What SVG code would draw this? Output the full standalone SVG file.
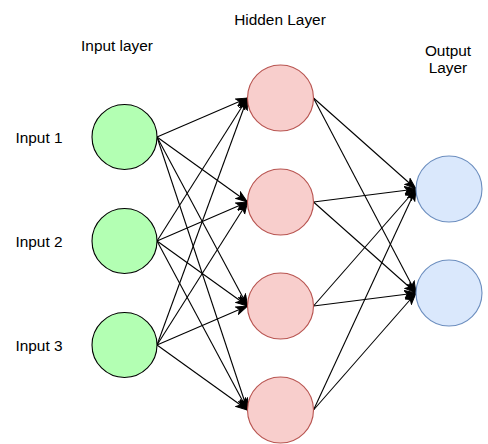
<svg xmlns="http://www.w3.org/2000/svg" width="488" height="444" viewBox="0 0 488 444">
<style>
text{font-family:"Liberation Sans",Arial,sans-serif;font-size:15.4px;fill:#000;text-anchor:middle}
.in{fill:#b3ffb3;stroke:#000;stroke-width:1.1}
.hid{fill:#f8cecc;stroke:#b85450;stroke-width:1.1}
.out{fill:#dae8fc;stroke:#6c8ebf;stroke-width:1.1}
.e{stroke:#000;stroke-width:1.1;fill:none;marker-end:url(#arr)}
</style>
<defs>
<marker id="arr" markerUnits="userSpaceOnUse" markerWidth="14" markerHeight="10" refX="12" refY="4.5" orient="auto">
<path d="M0.5,0.5 L12,4.5 L0.5,8.5 L3.3,4.5 Z" fill="#000" stroke="#000" stroke-width="1"/>
</marker>
</defs>
<g id="connectors">
<path class="e" d="M157,137 L247.5,98"/>
<path class="e" d="M157,137 L247.5,202"/>
<path class="e" d="M157,137 L247.5,306"/>
<path class="e" d="M157,137 L247.5,410"/>
<path class="e" d="M157,241 L247.5,98"/>
<path class="e" d="M157,241 L247.5,202"/>
<path class="e" d="M157,241 L247.5,306"/>
<path class="e" d="M157,241 L247.5,410"/>
<path class="e" d="M157,345 L247.5,98"/>
<path class="e" d="M157,345 L247.5,202"/>
<path class="e" d="M157,345 L247.5,306"/>
<path class="e" d="M157,345 L247.5,410"/>
<path class="e" d="M313.5,98 L416,189"/>
<path class="e" d="M313.5,98 L416,293"/>
<path class="e" d="M313.5,202 L416,189"/>
<path class="e" d="M313.5,202 L416,293"/>
<path class="e" d="M313.5,306 L416,189"/>
<path class="e" d="M313.5,306 L416,293"/>
<path class="e" d="M313.5,410 L416,189"/>
<path class="e" d="M313.5,410 L416,293"/>
</g>
<g id="in1"><circle class="in" cx="124.5" cy="137" r="32.5"/></g>
<g id="in2"><circle class="in" cx="124.5" cy="241" r="32.5"/></g>
<g id="in3"><circle class="in" cx="124.5" cy="345" r="32.5"/></g>
<g id="h1"><circle class="hid" cx="280.5" cy="98" r="33"/></g>
<g id="h2"><circle class="hid" cx="280.5" cy="202" r="33"/></g>
<g id="h3"><circle class="hid" cx="280.5" cy="306" r="33"/></g>
<g id="h4"><circle class="hid" cx="280.5" cy="410" r="33"/></g>
<g id="o1"><circle class="out" cx="449" cy="189" r="33"/></g>
<g id="o2"><circle class="out" cx="449" cy="293" r="33"/></g>
<g id="labels">
<text x="117" y="50.5">Input layer</text>
<text x="280" y="24.5">Hidden Layer</text>
<text x="448" y="56">Output</text>
<text x="448" y="73">Layer</text>
<text x="39" y="142.5">Input 1</text>
<text x="39" y="246.5">Input 2</text>
<text x="39" y="350.5">Input 3</text>
</g>
</svg>
